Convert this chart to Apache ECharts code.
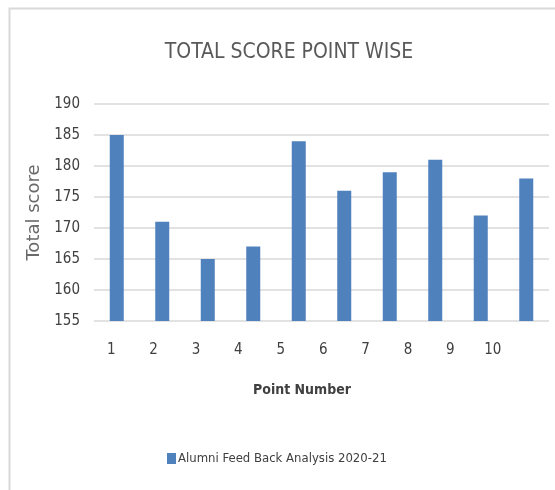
<!DOCTYPE html>
<html>
<head>
<meta charset="utf-8">
<script src="https://cdn.jsdelivr.net/npm/echarts@6/dist/echarts.min.js"></script>
<style>
html,body{margin:0;padding:0;background:#fff;}
#chart{width:555px;height:490px;}
</style>
</head>
<body>
<div id="chart"></div>
<script>
var categories = ['1','2','3','4','5','6','7','8','9','10'];
var scores = [185, 171, 165, 167, 184, 176, 179, 181, 172, 178];
var seriesName = 'Alumni Feed Back Analysis 2020-21';
var yMin = 155, yMax = 190, yStep = 5;

var NARROW = '"DejaVu Sans Condensed","Liberation Sans Narrow",sans-serif';
var chart = echarts.init(document.getElementById('chart'));
chart.setOption({
  backgroundColor: '#ffffff',
  animation: false,
  graphic: [{
    type: 'rect',
    shape: {x: 9.5, y: 8.5, width: 560, height: 500},
    style: {fill: 'none', stroke: '#d9d9d9', lineWidth: 2},
    silent: true
  }],
  title: {
    text: 'TOTAL SCORE POINT WISE',
    left: 284,
    top: 37,
    textAlign: 'center',
    textStyle: {fontFamily: NARROW, fontSize: 21, fontWeight: 'normal', color: '#595959'}
  },
  legend: {
    data: [seriesName],
    left: 162,
    top: 447,
    itemWidth: 9,
    itemHeight: 11,
    icon: 'rect',
    textStyle: {fontFamily: NARROW, fontSize: 13, color: '#404040', padding: [0,0,0,-3]}
  },
  grid: [
    {left: 94, right: 6, top: 104, bottom: 169},
    {left: 90, width: 424, top: 104, bottom: 169}
  ],
  xAxis: [{
    type: 'category',
    gridIndex: 0,
    data: categories,
    axisLine: {show: false},
    axisTick: {show: false},
    axisLabel: {show: false}
  }, {
    type: 'category',
    gridIndex: 1,
    data: categories,
    axisLine: {show: false},
    axisTick: {show: false},
    axisLabel: {margin: 22, fontFamily: NARROW, fontSize: 15, color: '#404040'},
    name: 'Point Number',
    nameLocation: 'middle',
    nameGap: 62,
    nameTextStyle: {fontFamily: NARROW, fontSize: 14, fontWeight: 'bold', color: '#404040'}
  }],
  yAxis: [{
    type: 'value',
    gridIndex: 0,
    min: yMin,
    max: yMax,
    interval: yStep,
    axisLine: {show: false},
    axisTick: {show: false},
    axisLabel: {margin: 14, fontFamily: NARROW, fontSize: 15, color: '#404040'},
    splitLine: {lineStyle: {color: '#d9d9d9', width: 1.5}},
    name: 'Total score',
    nameLocation: 'middle',
    nameRotate: 90,
    nameGap: 34,
    nameTextStyle: {fontFamily: '"DejaVu Sans",sans-serif', fontSize: 18, color: '#6a6a6a'}
  }, {
    type: 'value',
    gridIndex: 1,
    min: 0,
    max: 1,
    show: false
  }],
  series: [{
    name: seriesName,
    type: 'bar',
    xAxisIndex: 0,
    yAxisIndex: 0,
    data: scores,
    barWidth: 14,
    itemStyle: {color: '#4f81bd'}
  }]
});
</script>
</body>
</html>
